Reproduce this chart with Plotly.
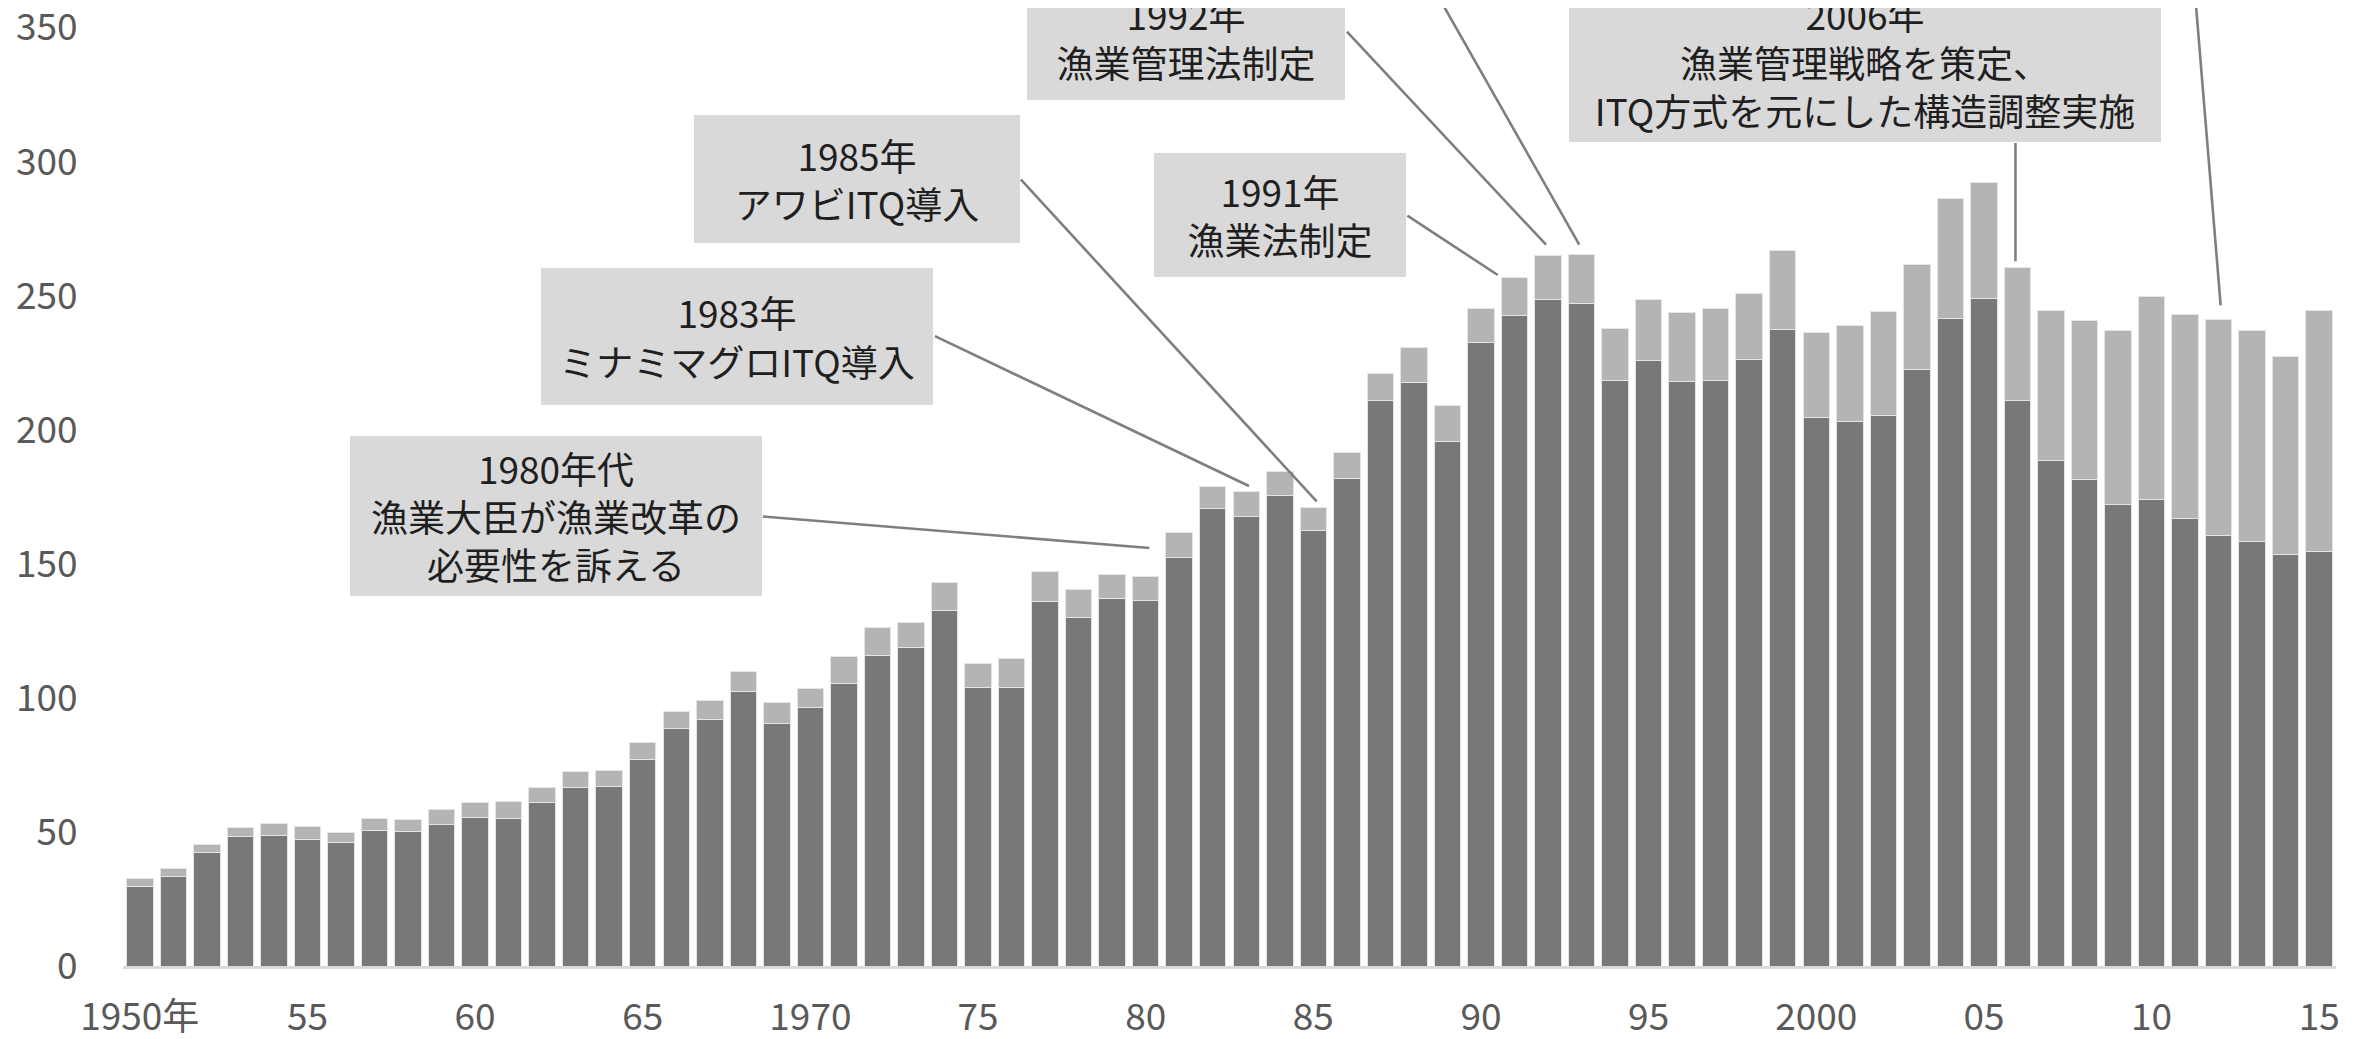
import plotly.graph_objects as go

# ---- data ----
years = list(range(1950, 2016))

lower = [29.6, 33.2, 42.3, 48.2, 48.6, 47.2, 46.0, 50.4, 50.0, 52.6,
         55.3, 54.9, 60.9, 66.7, 67.1, 76.9, 88.5, 91.8, 102.2, 90.4,
         96.5, 105.5, 115.8, 118.8, 132.4, 103.7, 104.0, 135.9, 130.0, 137.2,
         136.2, 152.4, 170.5, 167.7, 175.5, 162.3, 182.0, 211.0, 217.5, 195.5,
         232.5, 242.5, 248.4, 246.9, 218.4, 225.9, 218.0, 218.5, 226.1, 237.5,
         204.4, 203.1, 205.4, 222.5, 241.6, 249.1, 210.9, 188.4, 181.6, 172.3,
         173.8, 166.8, 160.5, 158.2, 153.6, 154.5]

upper = [3.1, 3.2, 3.0, 3.6, 4.6, 4.9, 3.9, 4.7, 4.7, 5.7,
         5.6, 6.4, 5.8, 5.9, 5.8, 6.4, 6.6, 7.4, 7.8, 7.7,
         7.1, 9.9, 10.5, 9.4, 10.7, 9.1, 10.5, 11.3, 10.3, 8.8,
         9.1, 9.4, 8.5, 9.3, 9.0, 8.7, 9.5, 10.0, 13.3, 13.7,
         12.8, 14.3, 16.6, 18.3, 19.4, 22.5, 25.6, 26.9, 24.8, 29.4,
         31.9, 35.8, 38.7, 39.1, 44.5, 43.2, 49.7, 56.0, 59.2, 64.7,
         76.0, 76.1, 80.6, 78.7, 73.7, 89.9]

tick_years = [1950, 1955, 1960, 1965, 1970, 1975, 1980, 1985, 1990, 1995, 2000, 2005, 2010, 2015]
tick_text = ["1950年", "55", "60", "65", "1970", "75", "80", "85", "90", "95", "2000", "05", "10", "15"]
y_ticks = [0, 50, 100, 150, 200, 250, 300, 350]

# callout boxes: text, centre (year, value), size in px
boxes = [
    ("1980年代<br>漁業大臣が漁業改革の<br>必要性を訴える", 1962.40, 167.7, 412, 160),
    ("1983年<br>ミナミマグロITQ導入", 1967.82, 234.9, 392, 137),
    ("1985年<br>アワビITQ導入", 1971.38, 293.5, 326, 128),
    ("1991年<br>漁業法制定", 1984.00, 280.2, 252, 124),
    ("1992年<br>漁業管理法制定", 1981.21, 346.0, 318, 124),
    ("2006年<br>漁業管理戦略を策定、<br>ITQ方式を元にした構造調整実施", 2001.44, 337.0, 592, 160),
]

# leader lines: (tail year, tail value) -> (head year, head value)
leaders = [
    (1968.54, 167.7, 1980.11, 155.9),
    (1973.67, 235.2, 1983.08, 179.0),
    (1976.24, 293.8, 1985.10, 173.3),
    (1987.76, 280.2, 1990.50, 257.7),
    (1985.96, 349.0, 1991.94, 269.0),
    (2005.94, 307.5, 2005.94, 262.8),
    (1987.26, 393.9, 1992.93, 269.0),
    (2011.09, 393.9, 2012.06, 246.4),
]

FONT = "Noto Sans CJK JP"

fig = go.Figure()
fig.add_trace(go.Bar(x=years, y=lower,
                     marker=dict(color="#787878", line=dict(color="#e4e4e4", width=1))))
fig.add_trace(go.Bar(x=years, y=upper,
                     marker=dict(color="#b4b4b4", line=dict(color="#e4e4e4", width=1))))

annotations = []
for text, cx, cy, w, h in boxes:
    annotations.append(dict(
        text=text, x=cx, y=cy, xref="x", yref="y",
        xanchor="center", yanchor="middle", showarrow=False,
        width=w, height=h, borderpad=0, borderwidth=0,
        bgcolor="#d9d9d9", align="center", valign="middle",
        font=dict(family=FONT, size=37, color="#1f1f1f"),
    ))
for tx, ty, hx, hy in leaders:
    annotations.append(dict(
        text="", x=hx, y=hy, xref="x", yref="y",
        ax=tx, ay=ty, axref="x", ayref="y",
        showarrow=True, arrowhead=0, arrowwidth=2.6, arrowcolor="#7f7f7f",
        standoff=0, startstandoff=0,
    ))

fig.update_layout(
    width=2366, height=1039, autosize=False,
    margin=dict(l=115, r=38, t=19, b=81),
    barmode="stack", bargap=0.21, showlegend=False,
    plot_bgcolor="white", paper_bgcolor="white",
    font=dict(family=FONT, size=36, color="#595959"),
    annotations=annotations,
    xaxis=dict(range=[1949.5, 2015.5], tickmode="array", tickvals=tick_years, ticktext=tick_text,
               showgrid=False, zeroline=False, showline=True, linecolor="#d9d9d9", linewidth=3,
               ticks="outside", ticklen=17, tickcolor="rgba(0,0,0,0)", automargin=False,
               tickfont=dict(family=FONT, size=37, color="#595959")),
    yaxis=dict(range=[0, 350.2], tickmode="array", tickvals=y_ticks,
               showgrid=False, zeroline=False, showline=False, automargin=False,
               ticklabeloverflow="allow",
               ticks="outside", ticklen=37, tickcolor="rgba(0,0,0,0)",
               tickfont=dict(family=FONT, size=37, color="#595959")),
)

fig.write_html("out.html")
